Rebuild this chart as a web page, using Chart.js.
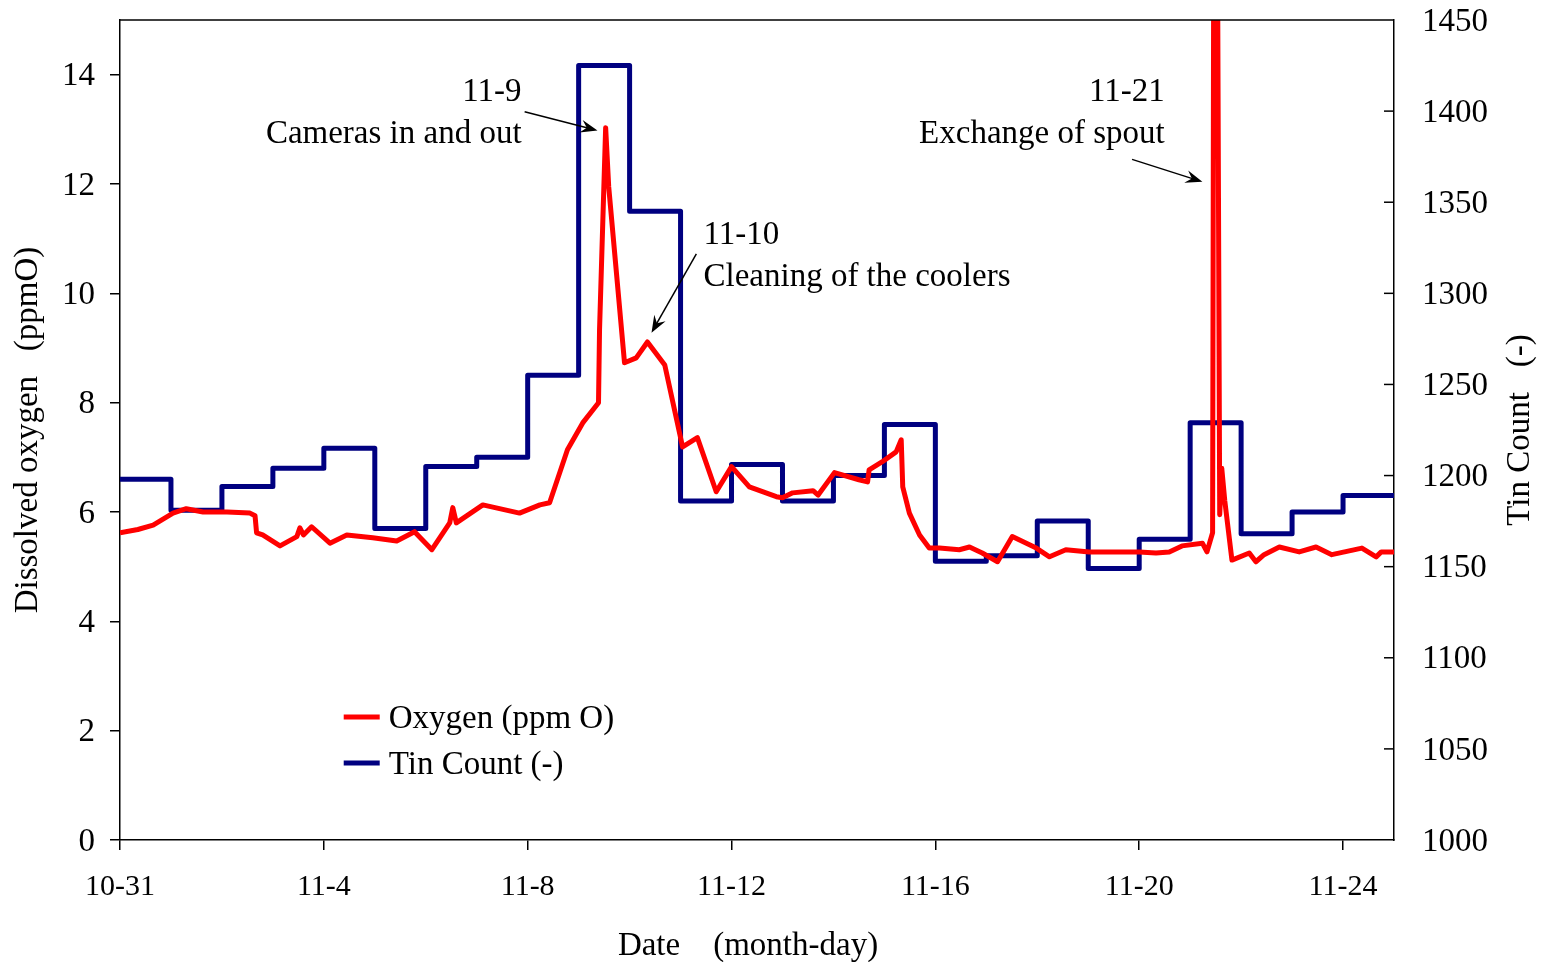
<!DOCTYPE html>
<html><head><meta charset="utf-8">
<script src="https://cdn.jsdelivr.net/npm/chart.js@4.4.1/dist/chart.umd.min.js"></script>
<style>html,body{margin:0;padding:0;background:#fff;} #wrap{width:1544px;height:962px;}</style>
</head><body><div id="wrap"><canvas id="c" width="1544" height="962"></canvas></div>
<script>
// ---- data (x = days since 10-31) ----
const oxygenDays = [0,0.35,0.65,1.04,1.3,1.63,2.1,2.55,2.65,2.68,2.8,3.14,3.47,3.53,3.6,3.76,4.12,4.45,4.96,5.43,5.78,6.12,6.47,6.53,6.6,7.12,7.84,8.24,8.43,8.78,9.08,9.39,9.41,9.53,9.59,9.9,10.13,10.35,10.69,11.04,11.33,11.7,12.0,12.35,12.88,13.0,13.2,13.6,13.7,14.02,14.5,14.67,14.7,14.96,15.23,15.33,15.36,15.49,15.69,15.88,16.08,16.47,16.67,16.92,17.22,17.51,17.98,18.24,18.56,19.02,20.0,20.33,20.59,20.84,21.24,21.33,21.44,21.48,21.5,21.58,21.62,21.68,21.82,22.16,22.29,22.45,22.75,23.14,23.47,23.78,24.37,24.65,24.75,25];
const oxygenPpm  = [5.62,5.68,5.76,5.98,6.06,6.0,6.0,5.98,5.93,5.62,5.58,5.38,5.55,5.71,5.58,5.73,5.43,5.58,5.53,5.47,5.64,5.31,5.80,6.08,5.80,6.13,5.98,6.13,6.17,7.14,7.63,8.0,9.33,13.03,11.95,8.73,8.82,9.11,8.69,7.19,7.36,6.37,6.83,6.46,6.28,6.26,6.35,6.39,6.31,6.72,6.59,6.55,6.77,6.92,7.10,7.32,6.46,5.98,5.58,5.34,5.34,5.31,5.36,5.25,5.09,5.55,5.34,5.18,5.31,5.27,5.27,5.25,5.27,5.38,5.43,5.27,5.62,25,25,5.95,6.8,6.2,5.12,5.25,5.09,5.22,5.36,5.27,5.36,5.22,5.34,5.18,5.27,5.27];
const tinDays  = [0,1,2,3,4,5,6,7,8,9,10,11,12,13,14,15,16,17,18,19,20,21,22,23,24,25];
const tinCount = [1198,1181,1194,1204,1215,1171,1205,1210,1255,1425,1345,1186,1206,1186,1200,1228,1153,1156,1175,1149,1165,1229,1168,1180,1189,1189];
const seriesLabels = ['Oxygen (ppm O)', 'Tin Count (-)'];
const dateTickDays = [0,4,8,12,16,20,24];
const dateTickLabels = ['10-31','11-4','11-8','11-12','11-16','11-20','11-24'];
const ppmTicks = [0,2,4,6,8,10,12,14];
const tinTicks = [1000,1050,1100,1150,1200,1250,1300,1350,1400,1450];
const axisTitles = {x: 'Date    (month-day)', left: 'Dissolved oxygen   (ppmO)', right: 'Tin Count   (-)'};
// annotations in data coordinates (day, ppm)
const notes = [
  {lines: ['11-9', 'Cameras in and out'], align: 'right', day: 7.88, ppm: [13.68, 12.91], tail: [7.94, 13.32], tip: [9.37, 12.98]},
  {lines: ['11-10', 'Cleaning of the coolers'], align: 'left', day: 11.45, ppm: [11.06, 10.29], tail: [11.31, 10.72], tip: [10.43, 9.28]},
  {lines: ['11-21', 'Exchange of spout'], align: 'right', day: 20.5, ppm: [13.68, 12.91], tail: [19.86, 12.45], tip: [21.24, 12.04]}
];

const FONT = "'Liberation Serif', 'Times New Roman', serif";
const RED = '#FF0000', BLUE = '#000080';

function arrow(ctx, x1, y1, x2, y2) {
  const a = Math.atan2(y2 - y1, x2 - x1), L = 17, W = 6.5;
  const bx = x2 - L * Math.cos(a), by = y2 - L * Math.sin(a);
  ctx.beginPath(); ctx.moveTo(x1, y1); ctx.lineTo(x2 - 8 * Math.cos(a), y2 - 8 * Math.sin(a)); ctx.stroke();
  ctx.beginPath();
  ctx.moveTo(x2, y2);
  ctx.lineTo(bx + W * Math.sin(a), by - W * Math.cos(a));
  ctx.lineTo(x2 - 11 * Math.cos(a), y2 - 11 * Math.sin(a));
  ctx.lineTo(bx - W * Math.sin(a), by + W * Math.cos(a));
  ctx.closePath(); ctx.fill();
}

const decor = {
  id: 'decor',
  afterDraw(chart) {
    const ctx = chart.ctx, a = chart.chartArea;
    const xs = chart.scales.x, yl = chart.scales.y, yr = chart.scales.y2;
    ctx.save();
    ctx.strokeStyle = '#000'; ctx.fillStyle = '#000'; ctx.lineWidth = 1.5;
    // top frame
    ctx.beginPath(); ctx.moveTo(a.left, a.top); ctx.lineTo(a.right, a.top); ctx.stroke();
    // right axis inner ticks
    tinTicks.forEach(v => {
      if (v === 1000 || v === 1450) return;
      const y = yr.getPixelForValue(v);
      ctx.beginPath(); ctx.moveTo(a.right - 10, y); ctx.lineTo(a.right, y); ctx.stroke();
    });
    // annotations
    ctx.font = '33px ' + FONT; ctx.textBaseline = 'middle';
    notes.forEach(n => {
      ctx.textAlign = n.align;
      n.lines.forEach((t, i) => ctx.fillText(t, xs.getPixelForValue(n.day), yl.getPixelForValue(n.ppm[i])));
      ctx.lineWidth = 1.5;
      arrow(ctx, xs.getPixelForValue(n.tail[0]), yl.getPixelForValue(n.tail[1]), xs.getPixelForValue(n.tip[0]), yl.getPixelForValue(n.tip[1]));
    });
    // legend
    const lx = xs.getPixelForValue(4.39), ly0 = yl.getPixelForValue(2.25), step = 46;
    [RED, BLUE].forEach((c, i) => {
      const y = ly0 + i * step;
      ctx.strokeStyle = c; ctx.lineWidth = 5;
      ctx.beginPath(); ctx.moveTo(lx, y); ctx.lineTo(lx + 36, y); ctx.stroke();
      ctx.fillStyle = '#000'; ctx.textAlign = 'left';
      ctx.fillText(chart.data.datasets[i].label, lx + 45, y + 2);
    });
    // axis titles
    ctx.fillStyle = '#000';
    ctx.textAlign = 'center';
    ctx.fillText(axisTitles.x, 748, 946);
    ctx.save(); ctx.translate(28, (a.top + a.bottom) / 2); ctx.rotate(-Math.PI / 2);
    ctx.fillText(axisTitles.left, 0, 0); ctx.restore();
    ctx.save(); ctx.translate(1520, (a.top + a.bottom) / 2); ctx.rotate(-Math.PI / 2);
    ctx.fillText(axisTitles.right, 0, 0); ctx.restore();
    ctx.restore();
  }
};

const toPts = (xs, ys) => xs.map((x, i) => ({x, y: ys[i]}));

new Chart(document.getElementById('c'), {
  type: 'line',
  data: {
    datasets: [
      {label: seriesLabels[0], data: toPts(oxygenDays, oxygenPpm), yAxisID: 'y', borderColor: RED, borderWidth: 5, pointRadius: 0, tension: 0, borderJoinStyle: 'round'},
      {label: seriesLabels[1], data: toPts(tinDays, tinCount), yAxisID: 'y2', borderColor: BLUE, borderWidth: 5, pointRadius: 0, stepped: 'before', borderJoinStyle: 'round'}
    ]
  },
  options: {
    responsive: false, animation: false, devicePixelRatio: 1,
    layout: {padding: {top: 20, left: 0, right: 0, bottom: 0}},
    plugins: {legend: {display: false}, tooltip: {enabled: false}},
    scales: {
      x: {
        type: 'linear', min: 0, max: 25,
        afterBuildTicks: s => { s.ticks = dateTickDays.map(v => ({value: v})); },
        afterFit: s => { s.height = 122; },
        ticks: {font: {family: FONT, size: 30}, color: '#000', padding: 19, maxRotation: 0, autoSkip: false,
          callback: v => dateTickLabels[dateTickDays.indexOf(v)]},
        grid: {display: true, drawOnChartArea: false, drawTicks: true, tickLength: 10, color: '#000', lineWidth: 1.5},
        border: {display: true, color: '#000', width: 1.5}
      },
      y: {
        type: 'linear', position: 'left', min: 0, max: 15,
        afterBuildTicks: s => { s.ticks = ppmTicks.map(v => ({value: v})); },
        afterFit: s => { s.width = 120; },
        ticks: {font: {family: FONT, size: 33, lineHeight: 0.2}, color: '#000', padding: 15, labelOffset: 2, callback: v => String(v)},
        grid: {display: true, drawOnChartArea: false, drawTicks: true, tickLength: 10, color: '#000', lineWidth: 1.5},
        border: {display: true, color: '#000', width: 1.5}
      },
      y2: {
        type: 'linear', position: 'right', min: 1000, max: 1450,
        afterBuildTicks: s => { s.ticks = tinTicks.map(v => ({value: v})); },
        afterFit: s => { s.width = 150; },
        ticks: {font: {family: FONT, size: 33, lineHeight: 0.2}, color: '#000', padding: 3, labelOffset: 2, callback: v => String(v)},
        grid: {display: false, drawTicks: true, tickLength: 25},
        border: {display: true, color: '#000', width: 1.5}
      }
    }
  },
  plugins: [decor]
});
</script>
</body></html>
